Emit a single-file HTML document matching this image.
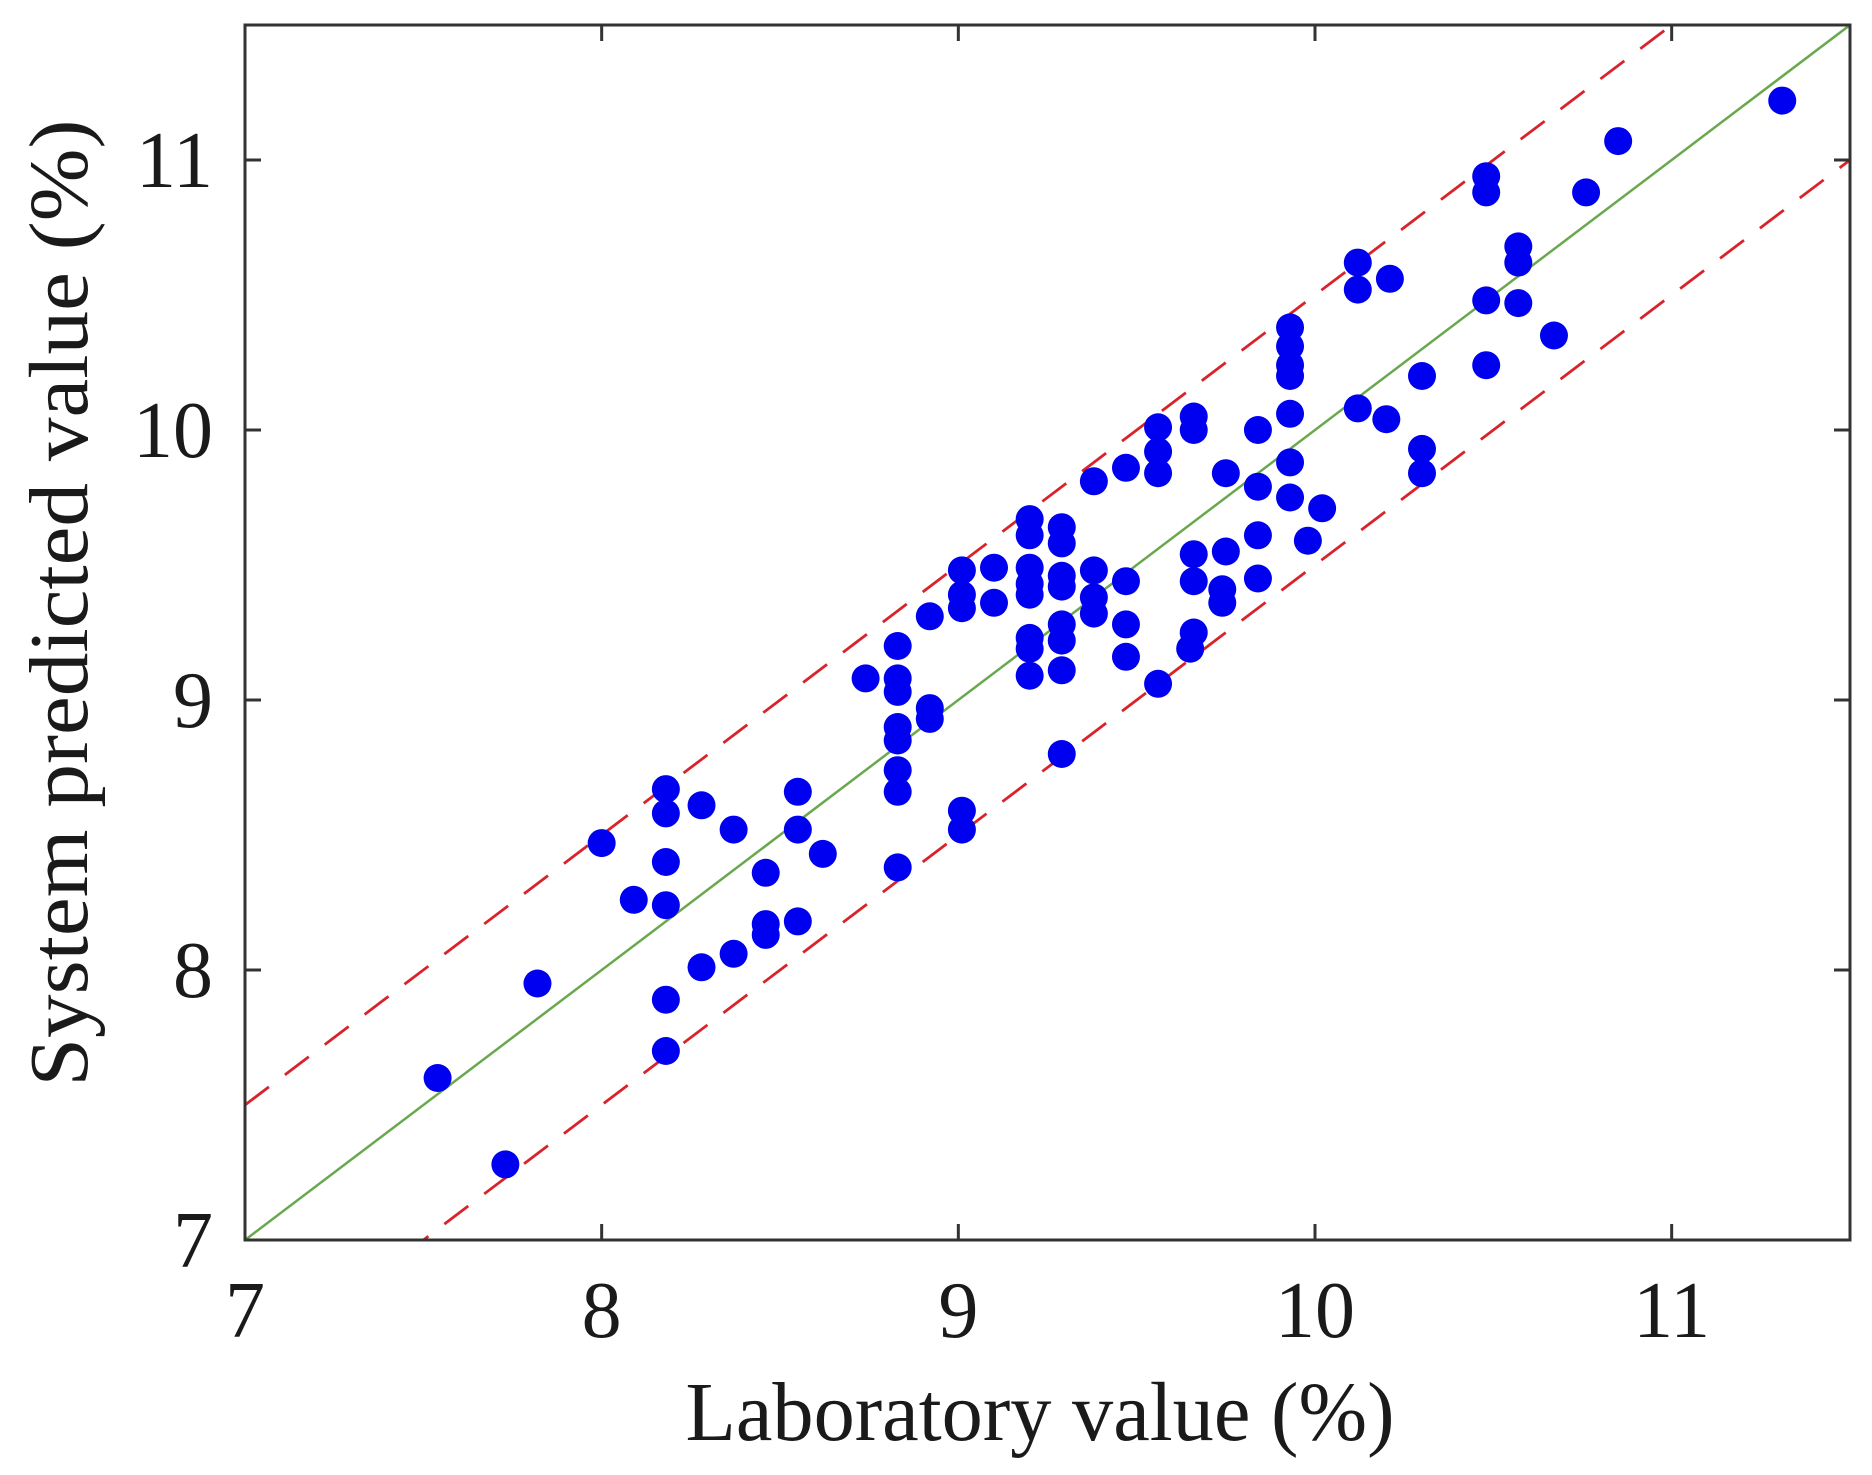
<!DOCTYPE html>
<html><head><meta charset="utf-8"><style>
html,body{margin:0;padding:0;background:#fff;}
svg{display:block;}
text{font-family:"Liberation Serif",serif;fill:#1a1a1a;}
</style></head><body>
<svg id="chart" width="1872" height="1475" viewBox="0 0 1872 1475" xmlns="http://www.w3.org/2000/svg">
<rect x="0" y="0" width="1872" height="1475" fill="#fff"/>
<g id="lines"></g>
<g id="points"></g>
<g id="axes"></g>
<text x="1040" y="1440" font-size="84" text-anchor="middle" textLength="709" lengthAdjust="spacingAndGlyphs">Laboratory value (%)</text>
<text transform="translate(87,603) rotate(-90)" font-size="84" text-anchor="middle" textLength="967" lengthAdjust="spacingAndGlyphs">System predicted value (%)</text>
</svg>
<script>
const xTicks = [7, 8, 9, 10, 11];
const yTicks = [7, 8, 9, 10, 11];
const labX = [7.54,7.73,7.82,8.0,8.09,8.18,8.18,8.18,8.18,8.18,8.18,8.28,8.28,8.37,8.37,8.46,8.46,8.46,8.55,8.55,8.55,8.62,8.74,8.83,8.83,8.83,8.83,8.83,8.83,8.83,8.83,8.92,8.92,8.92,9.01,9.01,9.01,9.01,9.01,9.10,9.10,9.20,9.20,9.20,9.20,9.20,9.20,9.20,9.20,9.29,9.29,9.29,9.29,9.29,9.29,9.29,9.29,9.38,9.38,9.38,9.38,9.47,9.47,9.47,9.47,9.56,9.56,9.56,9.56,9.66,9.66,9.66,9.66,9.66,9.65,9.75,9.75,9.74,9.74,9.84,9.84,9.84,9.84,9.93,9.93,9.93,9.93,9.93,9.93,9.93,10.02,9.98,10.12,10.12,10.12,10.21,10.20,10.30,10.30,10.30,10.48,10.48,10.48,10.48,10.57,10.57,10.57,10.67,10.76,10.85,11.31];
const predY = [7.60,7.28,7.95,8.47,8.26,8.67,8.58,8.40,8.24,7.89,7.70,8.61,8.01,8.52,8.06,8.36,8.17,8.13,8.66,8.52,8.18,8.43,9.08,9.20,9.08,9.03,8.90,8.85,8.74,8.66,8.38,9.31,8.97,8.93,9.48,9.39,9.34,8.59,8.52,9.49,9.36,9.67,9.61,9.49,9.43,9.39,9.23,9.19,9.09,9.64,9.58,9.46,9.42,9.28,9.22,9.11,8.80,9.81,9.48,9.38,9.32,9.86,9.44,9.28,9.16,10.01,9.92,9.84,9.06,10.05,10.0,9.54,9.44,9.25,9.19,9.84,9.55,9.41,9.36,10.0,9.79,9.61,9.45,10.38,10.31,10.24,10.20,10.06,9.88,9.75,9.71,9.59,10.62,10.52,10.08,10.56,10.04,10.20,9.93,9.84,10.94,10.88,10.48,10.24,10.68,10.62,10.47,10.35,10.88,11.07,11.22];
const bandOffset = [-0.5, 0, 0.5];

const X0=245, X1=1850, Y0=1240, Y1=25, DMIN=7, DMAX=11.5;
function sx(v){return X0+(v-DMIN)/(DMAX-DMIN)*(X1-X0);}
function sy(v){return Y0-(v-DMIN)/(DMAX-DMIN)*(Y0-Y1);}
const NS="http://www.w3.org/2000/svg";
function mk(tag,attrs,parent){const e=document.createElementNS(NS,tag);for(const k in attrs)e.setAttribute(k,attrs[k]);parent.appendChild(e);return e;}

const clip=mk('clipPath',{id:'pc'},document.getElementById('chart'));
mk('rect',{x:X0,y:Y1,width:X1-X0,height:Y0-Y1},clip);

const lg=document.getElementById('lines');
lg.setAttribute('clip-path','url(#pc)');
bandOffset.forEach(o=>{
  const l=mk('line',{x1:sx(DMIN),y1:sy(DMIN+o),x2:sx(DMAX),y2:sy(DMAX+o),
    stroke:o===0?'#6aa84f':'#d9232a','stroke-width':o===0?2.5:2.8,'stroke-dasharray':o===0?'none':'30 20'},lg);
  
  
});

const pg=document.getElementById('points');
labX.forEach((x,i)=>{
  const c=mk('circle',{cx:sx(x),cy:sy(predY[i]),r:14,fill:'#0000f0'},pg);
  
  
});

const ag=document.getElementById('axes');
const fr=mk('rect',{x:X0,y:Y1,width:X1-X0,height:Y0-Y1,fill:'none',stroke:'#333','stroke-width':3},ag);


xTicks.forEach(t=>{
  const x=sx(t);
  mk('line',{x1:x,y1:Y0,x2:x,y2:Y0-16,stroke:'#333','stroke-width':3},ag);
  mk('line',{x1:x,y1:Y1,x2:x,y2:Y1+16,stroke:'#333','stroke-width':3},ag);
  const tx=mk('text',{x:x,y:1337,'font-size':80,'text-anchor':'middle'},ag);
  tx.textContent=t;
  
  
});
yTicks.forEach(t=>{
  const y=sy(t);
  mk('line',{x1:X0,y1:y,x2:X0+16,y2:y,stroke:'#333','stroke-width':3},ag);
  mk('line',{x1:X1,y1:y,x2:X1-16,y2:y,stroke:'#333','stroke-width':3},ag);
  const tx=mk('text',{x:213,y:y+27,'font-size':80,'text-anchor':'end'},ag);
  tx.textContent=t;
  
  
});
</script>
</body></html>
